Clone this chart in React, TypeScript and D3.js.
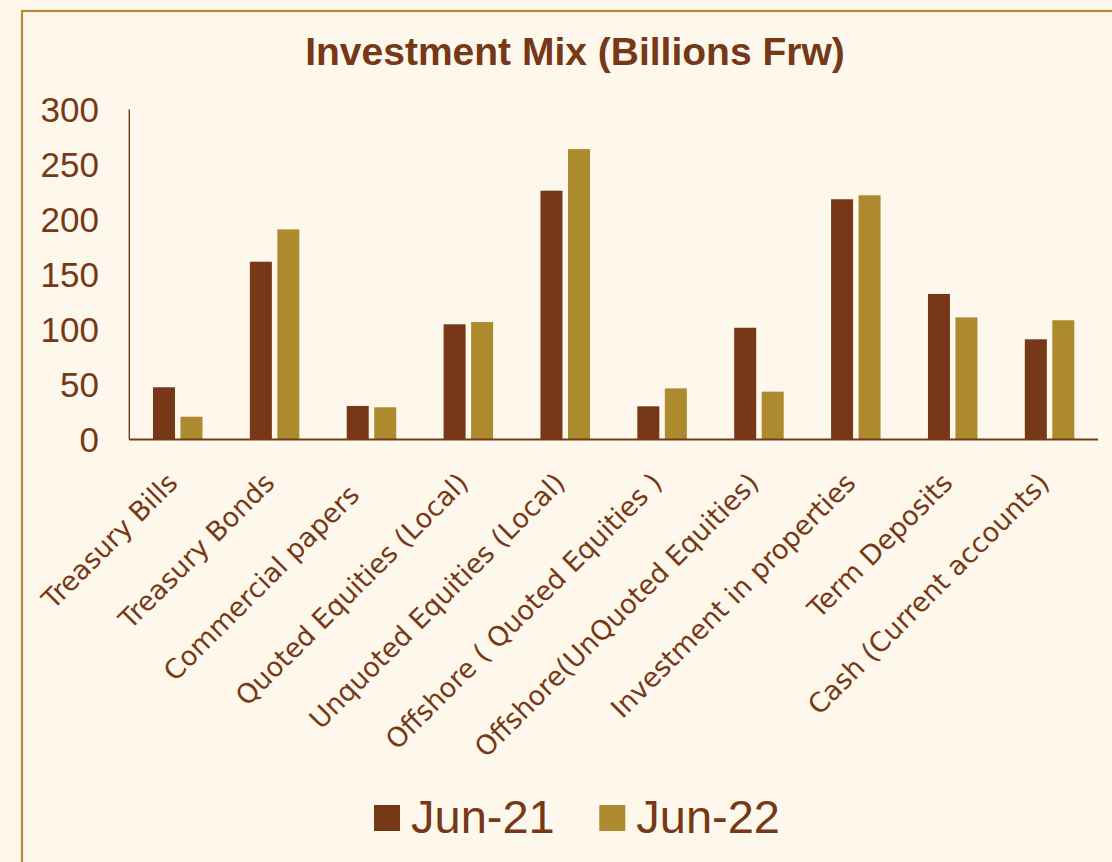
import React from "react";
import * as d3 from "d3";

const categories = [
  "Treasury Bills",
  "Treasury Bonds",
  "Commercial papers  ",
  "Quoted Equities (Local)",
  "Unquoted Equities (Local)",
  "Offshore ( Quoted Equities )",
  "Offshore(UnQuoted Equities)",
  "Investment in properties",
  "Term Deposits",
  "Cash (Current accounts)",
];
const seriesNames = ["Jun-21", "Jun-22"];
const jun21 = [47.5, 161.6, 30.5, 104.7, 226.2, 30.2, 101.6, 218.4, 132.3, 91.1];
const jun22 = [20.7, 191, 29.3, 106.8, 264, 46.5, 43.5, 222, 111, 108.4];
const yTicks = [0, 50, 100, 150, 200, 250, 300];

const W = 1112;
const H = 862;
const BG = "#FEF8EC";
const BROWN = "#763817";
const GOLD = "#AD8A2E";
const colors = [BROWN, GOLD];

export default function App() {
  const left = 129.3;
  const right = 1098;
  const top = 109.5;
  const bottom = 439.5;

  const x0 = d3
    .scaleBand<string>()
    .domain(categories)
    .range([left, right])
    .paddingInner(0.489)
    .paddingOuter(0.2445);
  const x1 = d3
    .scaleBand<string>()
    .domain(seriesNames)
    .range([0, x0.bandwidth()])
    .paddingInner(0.2);
  const y = d3.scaleLinear().domain([0, 300]).range([bottom, top]);
  const series = [jun21, jun22];

  const labelFont = "'DejaVu Sans', sans-serif";
  const numFont = "'Liberation Sans', Arial, sans-serif";

  return (
    <svg
      width={W}
      height={H}
      style={{ position: "absolute", left: 0, top: 0, background: BG }}
    >
      <rect x={0} y={0} width={W} height={H} fill={BG} />
      <rect
        x={22}
        y={11}
        width={W + 50}
        height={H + 50}
        fill="none"
        stroke="#B08D35"
        strokeWidth={2.2}
      />
      <text
        x={575}
        y={65}
        textAnchor="middle"
        fontFamily={numFont}
        fontWeight="bold"
        fontSize={39}
        fill={BROWN}
      >
        Investment Mix (Billions Frw)
      </text>

      {yTicks.map((t) => (
        <text
          key={t}
          x={99}
          y={y(t) + 12.3}
          textAnchor="end"
          fontFamily={numFont}
          fontSize={35}
          fill={BROWN}
        >
          {t}
        </text>
      ))}

      {categories.map((c, i) => (
        <g key={c} transform={`translate(${x0(c)},0)`}>
          {seriesNames.map((s, j) => (
            <rect
              key={s}
              x={x1(s)}
              y={y(series[j][i])}
              width={x1.bandwidth()}
              height={bottom - y(series[j][i])}
              fill={colors[j]}
            />
          ))}
        </g>
      ))}

      <line x1={left} x2={left} y1={top} y2={bottom} stroke={BROWN} strokeWidth={1.4} />
      <line x1={left} x2={right} y1={bottom} y2={bottom} stroke={BROWN} strokeWidth={2} />

      {categories.map((c) => {
        const cx = (x0(c) as number) + x0.bandwidth() / 2;
        return (
          <text
            key={c}
            transform={`translate(${cx + 1.5},${484.5}) rotate(-45)`}
            textAnchor="end"
            fontFamily={labelFont}
            fontSize={27}
            fill={BROWN}
            style={{ whiteSpace: "pre" }}
          >
            {c}
          </text>
        );
      })}

      {seriesNames.map((s, j) => {
        const lx = j === 0 ? 374 : 599.3;
        return (
          <g key={s}>
            <rect x={lx} y={805} width={26} height={26} fill={colors[j]} />
            <text
              x={lx + 37}
              y={833}
              fontFamily={numFont}
              fontSize={47}
              fill={BROWN}
            >
              {s}
            </text>
          </g>
        );
      })}
    </svg>
  );
}
